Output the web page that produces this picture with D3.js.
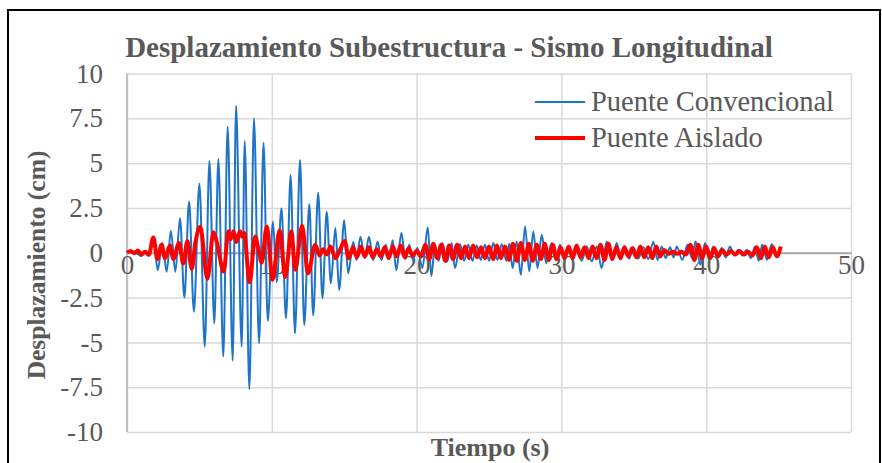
<!DOCTYPE html>
<html>
<head>
<meta charset="utf-8">
<script src="https://cdn.jsdelivr.net/npm/d3@7/dist/d3.min.js"></script>
<style>
  body { margin: 0; background: #fff; }
</style>
</head>
<body>
<svg id="chart" width="882" height="463"></svg>
<script>
// Response time histories (turning points of each oscillation), time in s, displacement in cm
const convTime = [0, 0.35, 0.7, 1.0, 1.3, 1.55, 1.82, 2.12, 2.44, 2.74, 3.03, 3.34, 3.66, 3.96, 4.29, 4.62,
  5.0, 5.37, 5.69, 6.03, 6.31, 6.65, 6.95, 7.3, 7.53, 7.92, 8.13, 8.45, 8.77, 9.12, 9.43, 9.72,
  10.08, 10.34, 10.67, 10.98, 11.3, 11.6, 11.95, 12.24, 12.59, 12.86, 13.2, 13.5, 13.79, 14.08, 14.39, 14.65,
  15.0, 15.27, 15.63, 15.85, 16.12, 16.42, 16.71, 17.0, 17.31, 17.57, 17.87, 18.1, 18.35, 18.6, 18.95, 19.22,
  19.5, 19.75, 20.05, 20.4, 20.77, 21.02, 21.27, 21.52, 21.78, 22.1, 22.42, 22.65, 23.0, 23.28, 23.57, 23.86,
  24.15, 24.43, 24.72, 25.0, 25.3, 25.58, 25.88, 26.2, 26.4, 26.63, 26.91, 27.2, 27.49, 27.78, 28.06, 28.35,
  28.64, 28.95, 29.33, 29.6, 29.9, 30.2, 30.48, 30.77, 31.06, 31.4, 31.75, 32.1, 32.44, 32.78, 33.13, 33.5,
  33.82, 34.1, 34.39, 34.68, 34.97, 35.3, 35.66, 36.0, 36.35, 36.65, 36.93, 37.2, 37.5, 37.75, 37.96, 38.35,
  38.72, 39.0, 39.27, 39.6, 39.92, 40.2, 40.49, 40.78, 41.07, 41.35, 41.64, 41.93, 42.22, 42.5, 42.8, 43.08,
  43.37, 43.62, 43.87, 44.2, 44.52, 44.85, 45.1];
const convDisp = [0, 0.08, -0.05, -0.2, 0.1, -0.15, 0.9, -0.97, 0.54, -1.06, 1.22, -1.06, 1.93, -2.49, 2.86, -3.29,
  3.87, -5.24, 5.12, -3.94, 5.23, -5.8, 7.03, -6.03, 8.2, -5.24, 6.23, -7.62, 7.5, -5.06, 6.14, -3.8,
  1.73, -1.65, 2.48, -3.66, 4.34, -4.5, 5.17, -4.03, 2.7, -3.5, 3.35, -2.54, 2.29, -1.71, 1.4, -2.08,
  1.82, -1.15, 0.61, -0.41, 0.89, -0.31, 0.89, -0.41, 0.63, -0.41, 0.45, -0.31, 0.7, -0.97, 1.1, -0.31,
  0.45, -0.41, 0.26, -0.86, 1.41, -1.3, 0.45, -0.45, 0.54, -0.5, 0.54, -0.86, 0.48, -0.45, 0.45, -0.45,
  0.41, -0.4, 0.45, -0.45, 0.54, -0.4, 0.48, -0.45, 0.5, -0.86, 0.63, -1.23, 1.47, -1.04, 1.19, -0.86,
  1.0, -0.58, 0.54, -0.4, 0.45, -0.4, 0.35, -0.4, 0.35, -0.45, 0.35, -0.48, 0.35, -0.86, 0.63, -0.4,
  0.54, -0.35, 0.35, -0.33, 0.3, -0.33, 0.3, -0.35, 0.6, -0.4, 0.35, -0.3, 0.3, -0.26, 0.35, -0.39,
  0.45, -0.26, 0.63, -0.67, 0.54, -0.39, 0.35, -0.3, 0.26, -0.26, 0.35, -0.15, 0.17, -0.15, 0.17, -0.3,
  0.35, -0.45, 0.45, -0.39, 0.48, -0.2, 0.3];

const isoTime = [0, 0.25, 0.5, 0.75, 1.0, 1.25, 1.5, 1.82, 2.1, 2.39, 2.62, 2.97, 3.2, 3.59, 3.89, 4.17,
  4.47, 4.72, 5.06, 5.55, 5.97, 6.2, 6.68, 7.0, 7.15, 7.35, 7.55, 7.8, 7.95, 8.08, 8.47, 8.85,
  9.1, 9.3, 9.65, 10.06, 10.54, 10.93, 11.35, 11.62, 12.09, 12.5, 13.0, 13.3, 13.55, 13.8, 14.05, 14.4,
  14.7, 15.03, 15.32, 15.6, 15.88, 16.15, 16.42, 16.7, 16.98, 17.25, 17.52, 17.8, 18.08, 18.35, 18.62, 18.9,
  19.18, 19.45, 19.72, 20.0, 20.3, 20.6, 20.88, 21.15, 21.42, 21.7, 21.98, 22.25, 22.52, 22.8, 23.08, 23.35,
  23.62, 23.9, 24.18, 24.45, 24.72, 25.0, 25.28, 25.55, 25.82, 26.1, 26.38, 26.65, 26.92, 27.2, 27.48, 27.75,
  28.02, 28.3, 28.58, 28.85, 29.12, 29.4, 29.68, 29.95, 30.22, 30.5, 30.78, 31.05, 31.32, 31.6, 31.88, 32.15,
  32.42, 32.7, 32.98, 33.25, 33.52, 33.8, 34.08, 34.35, 34.62, 34.9, 35.18, 35.45, 35.72, 36.0, 36.28, 36.55,
  36.82, 37.1, 37.4, 37.7, 38.0, 38.3, 38.6, 38.9, 39.18, 39.45, 39.72, 40.0, 40.28, 40.55, 40.82, 41.1,
  41.4, 41.7, 42.0, 42.3, 42.6, 42.9, 43.2, 43.5, 43.78, 44.05, 44.32, 44.6, 44.88, 45.15];
const isoDisp = [0.02, 0.1, -0.02, 0.12, -0.08, 0.05, -0.12, 0.85, -0.35, 0.45, -0.3, 0.4, -0.35, 0.55, -0.6, 0.65,
  -0.9, 0.55, 1.45, -1.45, 1.15, 0.6, -1.05, 1.2, 0.75, 1.2, 0.6, 1.2, 0.9, 1.1, -1.65, 0.9,
  0.1, -0.55, 1.45, -1.5, 1.25, -1.35, 1.2, -0.95, 1.5, -1.15, 0.45, -0.15, 0.2, -0.1, 0.35, -0.3,
  0.15, 0.65, -0.3, 0.3, -0.25, 0.35, -0.2, 0.3, -0.25, 0.2, -0.2, 0.3, -0.3, 0.35, -0.2, 0.4,
  -0.25, 0.25, -0.15, 0.1, -0.2, 0.45, -0.35, 0.5, -0.3, 0.45, -0.45, 0.4, -0.35, 0.45, -0.3, 0.35,
  -0.3, 0.4, -0.25, 0.3, -0.3, 0.35, -0.35, 0.4, -0.3, 0.35, -0.4, 0.5, -0.45, 0.55, -0.4, 0.5,
  -0.45, 0.45, -0.35, 0.5, -0.4, 0.45, -0.35, 0.3, -0.3, 0.35, -0.3, 0.4, -0.25, 0.3, -0.3, 0.35,
  -0.3, 0.45, -0.4, 0.5, -0.35, 0.3, -0.3, 0.3, -0.2, 0.25, -0.25, 0.35, -0.25, 0.3, -0.3, 0.35,
  -0.2, 0.15, -0.05, 0.05, -0.05, 0.05, -0.1, 0.45, -0.4, 0.45, -0.3, 0.35, -0.3, 0.25, -0.2, 0.15,
  -0.1, 0.1, -0.1, 0.1, -0.1, 0.05, -0.15, 0.3, -0.3, 0.35, -0.25, 0.3, -0.2, 0.35];

const seriesNames = ["Puente Convencional", "Puente Aislado"];
const seriesColors = ["#1f74c6", "#ff0000"];
const xTickValues = [0, 10, 20, 30, 40, 50];
const yTickValues = [-10, -7.5, -5, -2.5, 0, 2.5, 5, 7.5, 10];
const yTickLabels = ["-10", "-7.5", "-5", "-2.5", "0", "2.5", "5", "7.5", "10"];
const chartTitle = "Desplazamiento Subestructura - Sismo Longitudinal";
const xTitle = "Tiempo (s)";
const yTitle = "Desplazamiento (cm)";

const FONT = "'Liberation Serif', 'Times New Roman', serif";
const TEXT_GRAY = "#595959";

const svg = d3.select("#chart");
const plot = { left: 127, right: 851, top: 73.5, bottom: 432 };

// outer chart border
svg.append("rect")
  .attr("x", 8).attr("y", 10).attr("width", 872).attr("height", 480)
  .attr("fill", "#fff").attr("stroke", "#000").attr("stroke-width", 2);

const x = d3.scaleLinear().domain([0, 50]).range([plot.left, plot.right]);
const y = d3.scaleLinear().domain([-10, 10]).range([plot.bottom, plot.top]);

function styleText(sel, size, weight) {
  sel.style("font-family", FONT).style("font-size", size + "px")
    .style("font-weight", weight || "normal").style("fill", TEXT_GRAY);
}

// horizontal gridlines + y labels
const yAxis = svg.append("g")
  .attr("transform", `translate(${plot.left},0)`)
  .call(d3.axisLeft(y).tickValues(yTickValues)
    .tickSize(-(plot.right - plot.left)).tickPadding(24)
    .tickFormat((d, i) => yTickLabels[i]));
yAxis.select(".domain").remove();
yAxis.selectAll(".tick line").attr("stroke", "#d9d9d9").attr("stroke-width", 1.5);
yAxis.selectAll(".tick text").call(styleText, 27);

// vertical gridlines
const xGrid = svg.append("g")
  .attr("transform", `translate(0,${plot.bottom})`)
  .call(d3.axisBottom(x).tickValues(xTickValues).tickSize(-(plot.bottom - plot.top)).tickFormat(""));
xGrid.select(".domain").remove();
xGrid.selectAll(".tick line").attr("stroke", "#d9d9d9").attr("stroke-width", 1.5);

// vertical axis line at t = 0
svg.append("line")
  .attr("x1", x(0)).attr("x2", x(0)).attr("y1", plot.top).attr("y2", plot.bottom)
  .attr("stroke", "#bfbfbf").attr("stroke-width", 2);

// horizontal axis at zero with time labels
const xAxis = svg.append("g")
  .attr("transform", `translate(0,${y(0)})`)
  .call(d3.axisBottom(x).tickValues(xTickValues).tickSize(0).tickPadding(2));
xAxis.select(".domain").attr("stroke", "#a6a6a6").attr("stroke-width", 2);
xAxis.selectAll(".tick text").call(styleText, 27);

const line = d3.line().x(d => x(d[0])).y(d => y(d[1])).curve(d3.curveMonotoneX);

const convData = convTime.map((t, i) => [t, convDisp[i]]);
const isoData = isoTime.map((t, i) => [t, isoDisp[i]]);

svg.append("path").datum(convData)
  .attr("d", line).attr("fill", "none")
  .attr("stroke", seriesColors[0]).attr("stroke-width", 2).attr("stroke-linejoin", "round");
svg.append("path").datum(isoData)
  .attr("d", line).attr("fill", "none")
  .attr("stroke", seriesColors[1]).attr("stroke-width", 4).attr("stroke-linejoin", "round");

// title
svg.append("text")
  .attr("x", 449).attr("y", 57).attr("text-anchor", "middle")
  .text(chartTitle).call(styleText, 29, "bold");

// axis titles
svg.append("text")
  .attr("x", 490).attr("y", 456).attr("text-anchor", "middle")
  .text(xTitle).call(styleText, 26, "bold");
svg.append("text")
  .attr("transform", `translate(45,265) rotate(-90)`).attr("text-anchor", "middle")
  .text(yTitle).call(styleText, 25.5, "bold");

// legend
const legend = svg.append("g");
seriesNames.forEach((name, i) => {
  const ly = 102 + i * 36;
  legend.append("line")
    .attr("x1", 535).attr("x2", 585).attr("y1", ly).attr("y2", ly)
    .attr("stroke", seriesColors[i]).attr("stroke-width", i === 0 ? 2 : 4);
  legend.append("text")
    .attr("x", 591).attr("y", ly + 9)
    .text(name).call(styleText, 28.5);
});
</script>
</body>
</html>
